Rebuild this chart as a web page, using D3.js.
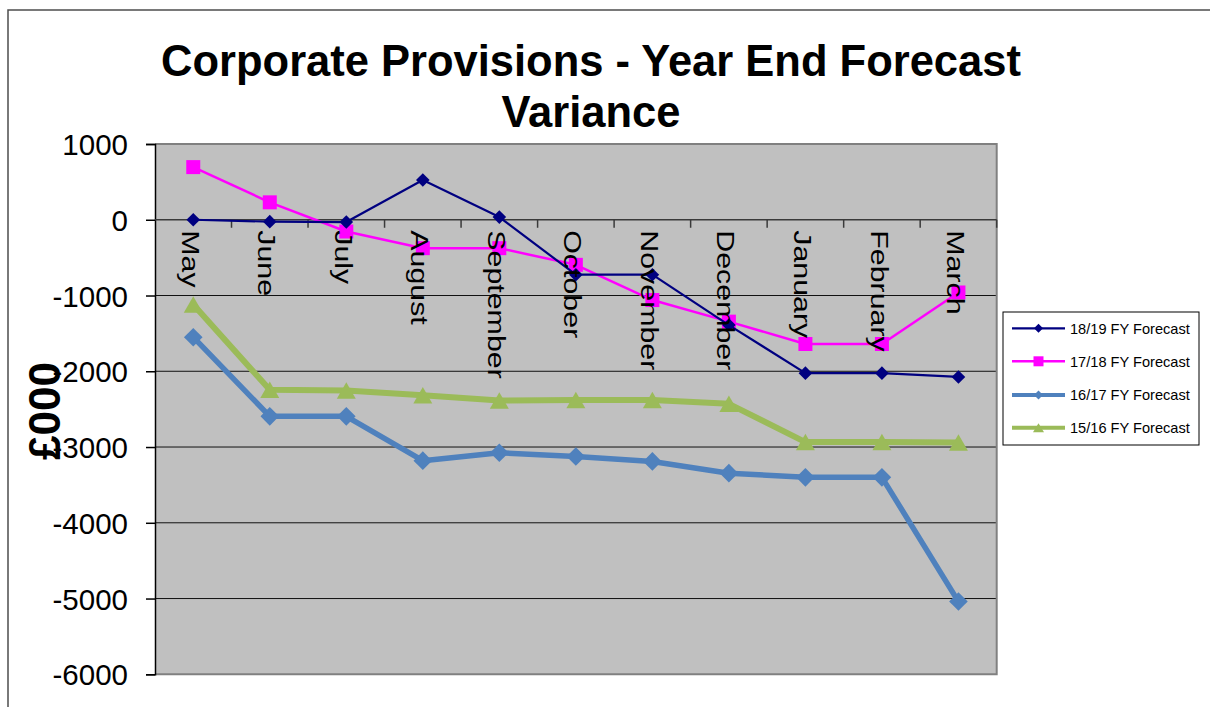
<!DOCTYPE html>
<html>
<head>
<meta charset="utf-8">
<script src="https://cdn.jsdelivr.net/npm/d3@7"></script>
<style>
  html, body { margin: 0; padding: 0; background: #fff; }
  svg { display: block; font-family: "Liberation Sans", Arial, sans-serif; }
</style>
</head>
<body>
<svg id="chart" width="1210" height="707"></svg>
<script>
// ---- data ----
const months = ["May","June","July","August","September","October","November","December","January","February","March"];
const fy1819 = [0, -25, -30, 525, 35, -725, -725, -1390, -2025, -2025, -2075];
const fy1718 = [695, 230, -155, -375, -375, -595, -1060, -1345, -1640, -1640, -960];
const fy1617 = [-1550, -2595, -2595, -3180, -3075, -3125, -3190, -3345, -3400, -3400, -5040];
const fy1516 = [-1120, -2245, -2255, -2315, -2385, -2380, -2380, -2430, -2935, -2935, -2940];
const yTicks = [1000, 0, -1000, -2000, -3000, -4000, -5000, -6000];
const seriesNames = ["18/19 FY Forecast", "17/18 FY Forecast", "16/17 FY Forecast", "15/16 FY Forecast"];
const titleLines = ["Corporate Provisions - Year End Forecast", "Variance"];
const yTitle = "£000";

const svg = d3.select("#chart");

// outer chart border (only top/left visible in window)
svg.append("rect").attr("x", 8).attr("y", 10).attr("width", 1400).attr("height", 900)
  .attr("fill", "#fff").attr("stroke", "#4d4d4d").attr("stroke-width", 1.5);

const plot = { left: 155, right: 996.7, top: 144, bottom: 674.3 };

const x = d3.scaleBand().domain(months).range([plot.left, plot.right]).padding(0);
const y = d3.scaleLinear().domain([-6000, 1000]).range([plot.bottom, plot.top]);
const cx = m => x(m) + x.bandwidth() / 2;

// plot background
svg.append("rect").attr("x", plot.left).attr("y", plot.top)
  .attr("width", plot.right - plot.left).attr("height", plot.bottom - plot.top)
  .attr("fill", "#c0c0c0");

// gridlines
svg.append("g").selectAll("line").data(yTicks.filter(t => t < 1000 && t > -6000 && t !== 0)).join("line")
  .attr("x1", plot.left).attr("x2", plot.right)
  .attr("y1", d => y(d)).attr("y2", d => y(d))
  .attr("stroke", "#111").attr("stroke-width", 1);

// plot border (top, right, bottom gray)
svg.append("path")
  .attr("d", `M${plot.left},${plot.top}H${plot.right}V${plot.bottom}H${plot.left}`)
  .attr("fill", "none").attr("stroke", "#808080").attr("stroke-width", 2);

// y axis
const yAxis = d3.axisLeft(y).tickValues(yTicks).tickSize(9).tickPadding(18).tickFormat(d3.format("d"));
const yg = svg.append("g").attr("transform", `translate(${plot.left},0)`).call(yAxis);
yg.select(".domain").attr("stroke", "#000").attr("stroke-width", 1.5);
yg.selectAll(".tick line").attr("stroke", "#000").attr("stroke-width", 1.5);
yg.selectAll(".tick text").attr("font-size", "29.5px").attr("fill", "#000")
  .attr("font-family", "'Liberation Sans', Arial, sans-serif")
  .attr("dy", null).attr("y", 10.5).attr("x", -27).text(d => d === 0 ? "0" : d3.format("d")(d).replace("−", "-"));

// x axis at 0
const x0 = y(0);
svg.append("line").attr("x1", plot.left).attr("x2", plot.right).attr("y1", x0).attr("y2", x0)
  .attr("stroke", "#3a3a3a").attr("stroke-width", 1.5);
const bounds = months.map(m => x(m) + x.bandwidth());
svg.append("g").selectAll("line").data(bounds).join("line")
  .attr("x1", d => d).attr("x2", d => d).attr("y1", x0).attr("y2", x0 + 8)
  .attr("stroke", "#3a3a3a").attr("stroke-width", 1.5);

// series
const diamond = r => `M0,${-r}L${r},0L0,${r}L${-r},0Z`;
const square = s => `M${-s/2},${-s/2}h${s}v${s}h${-s}Z`;
const triangle = (w, h) => `M0,${-h/2}L${w/2},${h/2}L${-w/2},${h/2}Z`;

const series = [
  { name: seriesNames[0], values: fy1819, color: "#000080", width: 2.2, marker: diamond(6.8), lmarker: diamond(4.5) },
  { name: seriesNames[1], values: fy1718, color: "#ff00ff", width: 2.5, marker: square(14), lmarker: square(10) },
  { name: seriesNames[2], values: fy1617, color: "#4f81bd", width: 5.5, marker: diamond(9.3), lmarker: diamond(4.5) },
  { name: seriesNames[3], values: fy1516, color: "#9bbb59", width: 6, marker: triangle(19, 16.5), lmarker: triangle(11, 9) }
];

const line = d3.line().x((d, i) => cx(months[i])).y(d => y(d));
const sg = svg.append("g");
[...series].reverse().forEach(s => {
  const g = sg.append("g");
  g.append("path").attr("d", line(s.values)).attr("fill", "none")
    .attr("stroke", s.color).attr("stroke-width", s.width).attr("stroke-linejoin", "round");
  g.selectAll("path.m").data(s.values).join("path").attr("class", "m")
    .attr("d", s.marker).attr("fill", s.color)
    .attr("transform", (d, i) => `translate(${cx(months[i])},${y(d)})`);
});

// category labels (rotated, on top)
svg.append("g").selectAll("text").data(months).join("text")
  .attr("transform", d => `translate(${cx(d) - 11.4},${x0 + 10.5}) rotate(90) scale(1.24,1)`)
  .attr("font-size", "24.5px").attr("fill", "#000").attr("text-anchor", "start")
  .text(d => d);

// y axis title
svg.append("text").attr("transform", `translate(60,411) rotate(-90)`)
  .attr("text-anchor", "middle").attr("font-size", "44px").attr("font-weight", "bold")
  .attr("fill", "#000").text(yTitle);

// title
svg.append("g").selectAll("text").data(titleLines).join("text")
  .attr("x", 591).attr("y", (d, i) => 75.5 + i * 51.5)
  .attr("text-anchor", "middle").attr("font-size", "43.5px").attr("font-weight", "bold")
  .attr("fill", "#000").text(d => d);

// legend
const lg = svg.append("g");
lg.append("rect").attr("x", 1003).attr("y", 312).attr("width", 196).attr("height", 133)
  .attr("fill", "#fff").attr("stroke", "#000").attr("stroke-width", 1);
const ly = [328.3, 361.3, 395, 427.7];
series.forEach((s, i) => {
  const g = lg.append("g").attr("transform", `translate(0,${ly[i]})`);
  g.append("line").attr("x1", 1012).attr("x2", 1065).attr("y1", 0).attr("y2", 0)
    .attr("stroke", s.color).attr("stroke-width", Math.min(s.width, 4));
  g.append("path").attr("d", s.lmarker).attr("fill", s.color).attr("transform", "translate(1038.5,0)");
  g.append("text").attr("x", 1070).attr("y", 5.2).attr("font-size", "14.6px").attr("fill", "#000").text(s.name);
});
</script>
</body>
</html>
